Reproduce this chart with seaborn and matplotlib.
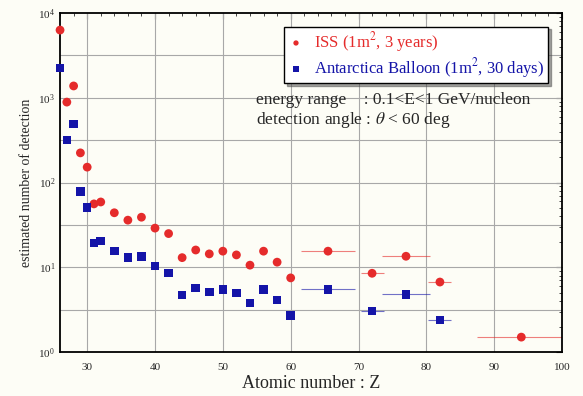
import numpy as np
import pandas as pd
import seaborn as sns
import matplotlib
matplotlib.use("Agg")
import matplotlib.pyplot as plt
from matplotlib.ticker import FixedLocator, MultipleLocator, LogLocator, NullFormatter

# ISS (1m^2, 3 years)
z_iss = [26, 27, 28, 29, 30, 31, 32, 34, 36, 38, 40, 42, 44, 46, 48, 50, 52, 54,
         56, 58, 60, 65.5, 72, 77, 82, 94]
n_iss = [6300, 890, 1380, 224, 152, 56, 59, 44, 36, 39, 29, 25, 13, 16, 14.4, 15.5,
         14, 10.6, 15.5, 11.5, 7.5, 15.5, 8.5, 13.5, 6.7, 1.5]
xerr_iss = [0]*21 + [4, 1.7, 3.5, 1.7, 6.5]

# Antarctica Balloon (1m^2, 30 days)
z_bal = [26, 27, 28, 29, 30, 31, 32, 34, 36, 38, 40, 42, 44, 46, 48, 50, 52, 54,
         56, 58, 60, 65.5, 72, 77, 82]
n_bal = [2240, 317, 490, 79, 51, 19.4, 20.5, 15.5, 13, 13.5, 10.3, 8.6, 4.7, 5.7,
         5.1, 5.5, 5.0, 3.8, 5.5, 4.1, 2.7, 5.5, 3.05, 4.8, 2.4]
xerr_bal = [0]*21 + [4, 1.7, 3.5, 1.7]

red = "#e52b2b"
blue = "#1414a8"

sns.set_style("white")
plt.rcParams["font.family"] = ["Liberation Serif", "DejaVu Serif"]
plt.rcParams["mathtext.fontset"] = "stix"

fig = plt.figure(figsize=(5.83, 3.96), dpi=100, facecolor="#fdfdf6")
ax = fig.add_axes([0.103, 0.111, 0.861, 0.856])
ax.set_facecolor("#fdfdf6")

iss = pd.DataFrame({"Z": z_iss, "N": n_iss, "err": xerr_iss})
bal = pd.DataFrame({"Z": z_bal, "N": n_bal, "err": xerr_bal})

# horizontal bars for the grouped heavy elements
ax.errorbar(iss["Z"], iss["N"], xerr=iss["err"], fmt="none", ecolor=red,
            elinewidth=0.8, alpha=0.6, zorder=2)
ax.errorbar(bal["Z"], bal["N"], xerr=bal["err"], fmt="none", ecolor=blue,
            elinewidth=0.8, alpha=0.6, zorder=2)
sns.scatterplot(data=iss, x="Z", y="N", ax=ax, color=red, marker="o", s=40,
                edgecolor="none", label="ISS (1m$^2$, 3 years)", zorder=3, clip_on=False)
sns.scatterplot(data=bal, x="Z", y="N", ax=ax, color=blue, marker="s", s=38,
                edgecolor="none", label="Antarctica Balloon (1m$^2$, 30 days)", zorder=3,
                clip_on=False)

ax.set_yscale("log")
ax.set_xlim(26, 100)
ax.set_ylim(1, 1e4)
ax.xaxis.set_major_locator(FixedLocator([30, 40, 50, 60, 70, 80, 90, 100]))
ax.xaxis.set_minor_locator(MultipleLocator(2))
ax.yaxis.set_major_locator(LogLocator(base=10, numticks=10))
ax.yaxis.set_minor_locator(LogLocator(base=10, subs=np.arange(2, 10), numticks=10))
ax.yaxis.set_minor_formatter(NullFormatter())

# grid: every decade and half decade, every 10 in Z
for k in range(4):
    ax.axhline(10**k, color="#a8a8a8", lw=0.8, zorder=1)
    ax.axhline(10**(k + 0.5), color="#a8a8a8", lw=0.8, zorder=1)
for xv in [30, 40, 50, 60, 70, 80, 90]:
    ax.axvline(xv, color="#a8a8a8", lw=0.8, zorder=1)

ax.tick_params(which="both", direction="in", top=True, right=True, labelsize=8)
ax.tick_params(axis="x", pad=8)
ax.tick_params(which="major", length=4)
ax.tick_params(which="minor", length=2)
for sp in ax.spines.values():
    sp.set_linewidth(1.3)
    sp.set_color("black")

ax.set_xlabel("Atomic number : Z", fontsize=13, labelpad=2)
ax.set_ylabel("estimated number of detection", fontsize=10)

leg = ax.legend(loc="upper right", bbox_to_anchor=(0.972, 0.96), borderaxespad=0,
                frameon=True, fancybox=False, shadow=True, edgecolor="black",
                fontsize=12, handletextpad=0.6, borderpad=0.2, labelspacing=0.12,
                markerscale=0.6, handlelength=1.0)
leg.get_frame().set_linewidth(1.0)
for txt, c in zip(leg.get_texts(), [red, blue]):
    txt.set_color(c)

ax.text(0.39, 0.745, "energy range    : 0.1<E<1 GeV/nucleon", transform=ax.transAxes,
        fontsize=12.5, va="center")
ax.text(0.39, 0.685, r"detection angle : $\theta$ < 60 deg", transform=ax.transAxes,
        fontsize=12.5, va="center")

fig.savefig("out.png", dpi=100, facecolor=fig.get_facecolor())
